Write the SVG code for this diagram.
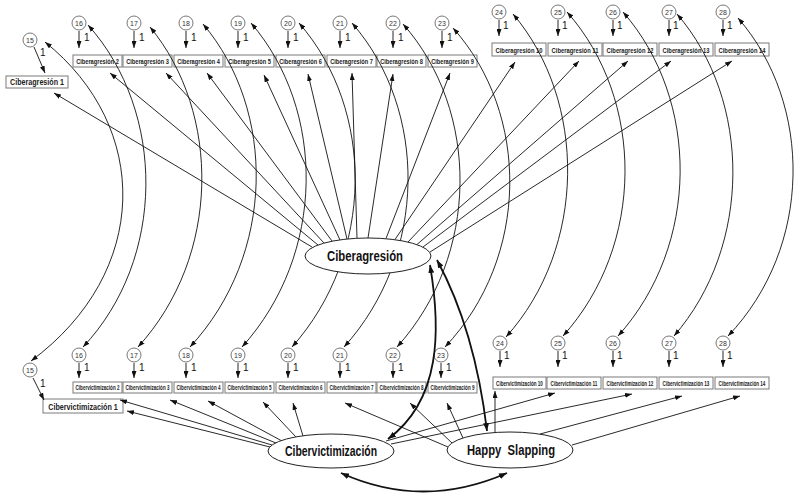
<svg xmlns="http://www.w3.org/2000/svg" width="800" height="497" viewBox="0 0 800 497">
<defs>
<style>
.bg{fill:#fff}
.box{fill:#fff;stroke:#7a7a7a;stroke-width:1}
.bt{font-family:"Liberation Sans",Arial,sans-serif;font-weight:bold;font-size:7.5px;text-anchor:middle;fill:#222}
.bv{font-family:"Liberation Sans",Arial,sans-serif;font-weight:bold;font-size:7px;text-anchor:middle;fill:#222}
.bt1{font-family:"Liberation Sans",Arial,sans-serif;font-weight:bold;font-size:8.5px;text-anchor:middle;fill:#222}
.err{fill:#fff;stroke:#555;stroke-width:0.8}
.et{font-family:"Liberation Sans",Arial,sans-serif;font-size:7px;text-anchor:middle;fill:#333}
.one{font-family:"Liberation Sans",Arial,sans-serif;font-size:10px;fill:#111}
.ln{stroke:#111;stroke-width:0.9;fill:none;marker-end:url(#ah)}
.cov{stroke:#111;stroke-width:0.9;fill:none;marker-start:url(#ah);marker-end:url(#ah)}
.thick{stroke:#111;stroke-width:1.8;fill:none;marker-start:url(#ahb);marker-end:url(#ahb)}
.lat{fill:#fff;stroke:#222;stroke-width:1}
.lt{font-family:"Liberation Sans",Arial,sans-serif;font-weight:bold;font-size:14px;text-anchor:middle;fill:#111}
</style>
<marker id="ah" viewBox="0 0 10 10" refX="10" refY="5" markerWidth="7" markerHeight="5" markerUnits="userSpaceOnUse" preserveAspectRatio="none" orient="auto-start-reverse"><path d="M0,0 L10,5 L0,10 z" fill="#111"/></marker>
<marker id="ahb" viewBox="0 0 10 10" refX="10" refY="5" markerWidth="8" markerHeight="6" markerUnits="userSpaceOnUse" preserveAspectRatio="none" orient="auto-start-reverse"><path d="M0,0 L10,5 L0,10 z" fill="#111"/></marker>
</defs>
<rect class="bg" x="0" y="0" width="800" height="497"/>

<g id="observed-top">
<g id="ca1"><rect class="box" x="6" y="76" width="62" height="12"/><text class="bt1" transform="translate(37,85) scale(0.85,1)" textLength="63.5" lengthAdjust="spacingAndGlyphs">Ciberagresión 1</text></g>
<g id="ca2"><rect class="box" x="73" y="55" width="49" height="12"/><text class="bt" transform="translate(97.5,64) scale(0.75,1)" textLength="57" lengthAdjust="spacingAndGlyphs">Ciberagresión 2</text></g>
<g id="ca3"><rect class="box" x="123" y="55" width="49" height="12"/><text class="bt" transform="translate(147.5,64) scale(0.75,1)" textLength="57" lengthAdjust="spacingAndGlyphs">Ciberagresión 3</text></g>
<g id="ca4"><rect class="box" x="174" y="55" width="49" height="12"/><text class="bt" transform="translate(198.5,64) scale(0.75,1)" textLength="57" lengthAdjust="spacingAndGlyphs">Ciberagresión 4</text></g>
<g id="ca5"><rect class="box" x="225" y="55" width="49" height="12"/><text class="bt" transform="translate(249.5,64) scale(0.75,1)" textLength="57" lengthAdjust="spacingAndGlyphs">Ciberagresión 5</text></g>
<g id="ca6"><rect class="box" x="276" y="55" width="49" height="12"/><text class="bt" transform="translate(300.5,64) scale(0.75,1)" textLength="57" lengthAdjust="spacingAndGlyphs">Ciberagresión 6</text></g>
<g id="ca7"><rect class="box" x="327" y="55" width="49" height="12"/><text class="bt" transform="translate(351.5,64) scale(0.75,1)" textLength="57" lengthAdjust="spacingAndGlyphs">Ciberagresión 7</text></g>
<g id="ca8"><rect class="box" x="377" y="55" width="49" height="12"/><text class="bt" transform="translate(401.5,64) scale(0.75,1)" textLength="57" lengthAdjust="spacingAndGlyphs">Ciberagresión 8</text></g>
<g id="ca9"><rect class="box" x="428" y="55" width="49" height="12"/><text class="bt" transform="translate(452.5,64) scale(0.75,1)" textLength="57" lengthAdjust="spacingAndGlyphs">Ciberagresión 9</text></g>
<g id="ca10"><rect class="box" x="492" y="43" width="54" height="13"/><text class="bt" transform="translate(519,52.5) scale(0.75,1)" textLength="62.5" lengthAdjust="spacingAndGlyphs">Ciberagresión 10</text></g>
<g id="ca11"><rect class="box" x="548" y="43" width="54" height="13"/><text class="bt" transform="translate(575,52.5) scale(0.75,1)" textLength="62.5" lengthAdjust="spacingAndGlyphs">Ciberagresión 11</text></g>
<g id="ca12"><rect class="box" x="603" y="43" width="54" height="13"/><text class="bt" transform="translate(630,52.5) scale(0.75,1)" textLength="62.5" lengthAdjust="spacingAndGlyphs">Ciberagresión 12</text></g>
<g id="ca13"><rect class="box" x="659" y="43" width="54" height="13"/><text class="bt" transform="translate(686,52.5) scale(0.75,1)" textLength="62.5" lengthAdjust="spacingAndGlyphs">Ciberagresión 13</text></g>
<g id="ca14"><rect class="box" x="715" y="43" width="54" height="13"/><text class="bt" transform="translate(742,52.5) scale(0.75,1)" textLength="62.5" lengthAdjust="spacingAndGlyphs">Ciberagresión 14</text></g>
</g>

<g id="observed-bottom">
<g id="cv1"><rect class="box" x="43" y="399" width="80" height="14"/><text class="bt1" font-size="9" transform="translate(83,409.5) scale(0.8,1)" textLength="87" lengthAdjust="spacingAndGlyphs">Cibervictimización 1</text></g>
<g id="cv2"><rect class="box" x="73" y="382" width="49" height="11"/><text class="bv" transform="translate(97.5,390.3) scale(0.65,1)" textLength="67.5" lengthAdjust="spacingAndGlyphs">Cibervictimización 2</text></g>
<g id="cv3"><rect class="box" x="123" y="382" width="49" height="11"/><text class="bv" transform="translate(147.5,390.3) scale(0.65,1)" textLength="67.5" lengthAdjust="spacingAndGlyphs">Cibervictimización 3</text></g>
<g id="cv4"><rect class="box" x="174" y="382" width="49" height="11"/><text class="bv" transform="translate(198.5,390.3) scale(0.65,1)" textLength="67.5" lengthAdjust="spacingAndGlyphs">Cibervictimización 4</text></g>
<g id="cv5"><rect class="box" x="225" y="382" width="49" height="11"/><text class="bv" transform="translate(249.5,390.3) scale(0.65,1)" textLength="67.5" lengthAdjust="spacingAndGlyphs">Cibervictimización 5</text></g>
<g id="cv6"><rect class="box" x="276" y="382" width="49" height="11"/><text class="bv" transform="translate(300.5,390.3) scale(0.65,1)" textLength="67.5" lengthAdjust="spacingAndGlyphs">Cibervictimización 6</text></g>
<g id="cv7"><rect class="box" x="327" y="382" width="49" height="11"/><text class="bv" transform="translate(351.5,390.3) scale(0.65,1)" textLength="67.5" lengthAdjust="spacingAndGlyphs">Cibervictimización 7</text></g>
<g id="cv8"><rect class="box" x="377" y="382" width="49" height="11"/><text class="bv" transform="translate(401.5,390.3) scale(0.65,1)" textLength="67.5" lengthAdjust="spacingAndGlyphs">Cibervictimización 8</text></g>
<g id="cv9"><rect class="box" x="428" y="382" width="49" height="11"/><text class="bv" transform="translate(452.5,390.3) scale(0.65,1)" textLength="67.5" lengthAdjust="spacingAndGlyphs">Cibervictimización 9</text></g>
<g id="cv10"><rect class="box" x="493" y="377" width="53" height="12"/><text class="bv" transform="translate(519.5,385.8) scale(0.65,1)" textLength="72" lengthAdjust="spacingAndGlyphs">Cibervictimización 10</text></g>
<g id="cv11"><rect class="box" x="547" y="377" width="54" height="12"/><text class="bv" transform="translate(574,385.8) scale(0.65,1)" textLength="72" lengthAdjust="spacingAndGlyphs">Cibervictimización 11</text></g>
<g id="cv12"><rect class="box" x="603" y="377" width="54" height="12"/><text class="bv" transform="translate(630,385.8) scale(0.65,1)" textLength="72" lengthAdjust="spacingAndGlyphs">Cibervictimización 12</text></g>
<g id="cv13"><rect class="box" x="659" y="377" width="54" height="12"/><text class="bv" transform="translate(686,385.8) scale(0.65,1)" textLength="72" lengthAdjust="spacingAndGlyphs">Cibervictimización 13</text></g>
<g id="cv14"><rect class="box" x="715" y="377" width="54" height="12"/><text class="bv" transform="translate(742,385.8) scale(0.65,1)" textLength="72" lengthAdjust="spacingAndGlyphs">Cibervictimización 14</text></g>
</g>

<g id="errors-top">
<g id="et15"><circle class="err" cx="30" cy="40" r="7"/><text class="et" x="30" y="42.5">15</text></g>
<g id="et16"><circle class="err" cx="79" cy="23" r="7"/><text class="et" x="79" y="25.5">16</text></g>
<g id="et17"><circle class="err" cx="134" cy="23" r="7"/><text class="et" x="134" y="25.5">17</text></g>
<g id="et18"><circle class="err" cx="186" cy="23" r="7"/><text class="et" x="186" y="25.5">18</text></g>
<g id="et19"><circle class="err" cx="238" cy="23" r="7"/><text class="et" x="238" y="25.5">19</text></g>
<g id="et20"><circle class="err" cx="288" cy="23" r="7"/><text class="et" x="288" y="25.5">20</text></g>
<g id="et21"><circle class="err" cx="340" cy="23" r="7"/><text class="et" x="340" y="25.5">21</text></g>
<g id="et22"><circle class="err" cx="393" cy="23" r="7"/><text class="et" x="393" y="25.5">22</text></g>
<g id="et23"><circle class="err" cx="442" cy="23" r="7"/><text class="et" x="442" y="25.5">23</text></g>
<g id="et24"><circle class="err" cx="499" cy="12" r="7"/><text class="et" x="499" y="14.5">24</text></g>
<g id="et25"><circle class="err" cx="558" cy="12" r="7"/><text class="et" x="558" y="14.5">25</text></g>
<g id="et26"><circle class="err" cx="613" cy="12" r="7"/><text class="et" x="613" y="14.5">26</text></g>
<g id="et27"><circle class="err" cx="669" cy="12" r="7"/><text class="et" x="669" y="14.5">27</text></g>
<g id="et28"><circle class="err" cx="723" cy="12" r="7"/><text class="et" x="723" y="14.5">28</text></g>
</g>

<g id="errors-bottom">
<g id="eb15"><circle class="err" cx="30" cy="370" r="7"/><text class="et" x="30" y="372.5">15</text></g>
<g id="eb16"><circle class="err" cx="79" cy="355" r="7"/><text class="et" x="79" y="357.5">16</text></g>
<g id="eb17"><circle class="err" cx="134" cy="355" r="7"/><text class="et" x="134" y="357.5">17</text></g>
<g id="eb18"><circle class="err" cx="186" cy="355" r="7"/><text class="et" x="186" y="357.5">18</text></g>
<g id="eb19"><circle class="err" cx="238" cy="355" r="7"/><text class="et" x="238" y="357.5">19</text></g>
<g id="eb20"><circle class="err" cx="288" cy="355" r="7"/><text class="et" x="288" y="357.5">20</text></g>
<g id="eb21"><circle class="err" cx="340" cy="355" r="7"/><text class="et" x="340" y="357.5">21</text></g>
<g id="eb22"><circle class="err" cx="393" cy="355" r="7"/><text class="et" x="393" y="357.5">22</text></g>
<g id="eb23"><circle class="err" cx="441" cy="355" r="7"/><text class="et" x="441" y="357.5">23</text></g>
<g id="eb24"><circle class="err" cx="500" cy="343" r="7"/><text class="et" x="500" y="345.5">24</text></g>
<g id="eb25"><circle class="err" cx="558" cy="343" r="7"/><text class="et" x="558" y="345.5">25</text></g>
<g id="eb26"><circle class="err" cx="613" cy="343" r="7"/><text class="et" x="613" y="345.5">26</text></g>
<g id="eb27"><circle class="err" cx="669" cy="343" r="7"/><text class="et" x="669" y="345.5">27</text></g>
<g id="eb28"><circle class="err" cx="723" cy="343" r="7"/><text class="et" x="723" y="345.5">28</text></g>
</g>

<g id="connectors">
<path class="ln" d="M34,47 L45,73"/>
<path class="ln" d="M79,31 L79,48"/><path class="ln" d="M134,31 L134,48"/><path class="ln" d="M186,31 L186,48"/><path class="ln" d="M238,31 L238,48"/>
<path class="ln" d="M288,31 L288,48"/><path class="ln" d="M340,31 L340,48"/><path class="ln" d="M393,31 L393,48"/><path class="ln" d="M442,31 L442,48"/>
<path class="ln" d="M499,20 L499,36"/><path class="ln" d="M558,20 L558,36"/><path class="ln" d="M613,20 L613,36"/><path class="ln" d="M669,20 L669,36"/><path class="ln" d="M723,20 L723,36"/>
<path class="ln" d="M33,378 L44,400"/>
<path class="ln" d="M79,363 L79,378"/><path class="ln" d="M134,363 L134,378"/><path class="ln" d="M186,363 L186,378"/><path class="ln" d="M238,363 L238,378"/>
<path class="ln" d="M288,363 L288,378"/><path class="ln" d="M340,363 L340,378"/><path class="ln" d="M393,363 L393,378"/><path class="ln" d="M441,363 L441,378"/>
<path class="ln" d="M500,351 L500,367"/><path class="ln" d="M558,351 L558,367"/><path class="ln" d="M613,351 L613,367"/><path class="ln" d="M669,351 L669,367"/><path class="ln" d="M723,351 L723,367"/>

<path class="cov" d="M45,42 C151,127 151,272 31,361"/>
<path class="cov" d="M88,25 C166,112 166,259 83,347"/>
<path class="cov" d="M150,27 C221,113 221,256 138,347"/>
<path class="cov" d="M203,24 C276,110 276,254 190,347"/>
<path class="cov" d="M251,23 C326,110 326,254 242,347"/>
<path class="cov" d="M299,23 C375,110 375,254 292,347"/>
<path class="cov" d="M352,23 C428,110 428,254 344,347"/>
<path class="cov" d="M403,24 C480,111 480,255 397,347"/>
<path class="cov" d="M453,28 C530,114 530,257 445,347"/>
<path class="cov" d="M513,14 C587,101 587,247 506,337"/>
<path class="cov" d="M567,12 C645,100 645,245 563,336"/>
<path class="cov" d="M623,12 C700,100 700,245 618,336"/>
<path class="cov" d="M677,14 C752,101 752,246 674,336"/>
<path class="cov" d="M738,18 C813,104 813,247 728,336"/>

<path class="ln" d="M312,247 L54,93"/>
<path class="ln" d="M318,245 L110,73"/>
<path class="ln" d="M324,243 L166,73"/>
<path class="ln" d="M332,241 L207,73"/>
<path class="ln" d="M340,240 L264,75"/>
<path class="ln" d="M347,239 L308,74"/>
<path class="ln" d="M357,238 L352,73"/>
<path class="ln" d="M368,238 L393,74"/>
<path class="ln" d="M386,238.5 L450,73"/>
<path class="ln" d="M395,239.5 L515,62"/>
<path class="ln" d="M408,242 L579,61"/>
<path class="ln" d="M417,244.5 L628,61"/>
<path class="ln" d="M423,247 L671,61"/>
<path class="ln" d="M430,252 L732,61"/>

<path class="ln" d="M270,447 L127,411"/>
<path class="ln" d="M272,445 L120,400"/>
<path class="ln" d="M276,443 L170,400"/>
<path class="ln" d="M282,441 L208,401"/>
<path class="ln" d="M296,437 L263,402"/>
<path class="ln" d="M303,436 L293,403"/>
<path class="ln" d="M386,441 L555,393"/>
<path class="ln" d="M391,444 L632,394"/>

<path class="ln" d="M448,447 L345,403"/>
<path class="ln" d="M452,443 L410,403"/>
<path class="ln" d="M463,438 L447,403"/>
<path class="ln" d="M495,432 L495,391"/>
<path class="ln" d="M540,434 L682,396"/>
<path class="ln" d="M572,445 L740,396"/>

<path class="thick" d="M430,265 C441,330 441,400 388,439"/>
<path class="thick" d="M437,260 Q475,330 487,431"/>
<path class="thick" d="M341,473 Q423,510 507,473"/>
</g>

<g id="latent-ciberagresion"><ellipse class="lat" cx="368" cy="256" rx="63" ry="18"/><text class="lt" x="365" y="261" textLength="76" lengthAdjust="spacingAndGlyphs">Ciberagresión</text></g>
<g id="latent-cibervictimizacion"><ellipse class="lat" cx="331" cy="451" rx="63" ry="17"/><text class="lt" x="331" y="456" textLength="92" lengthAdjust="spacingAndGlyphs">Cibervictimización</text></g>
<g id="latent-happy-slapping"><ellipse class="lat" cx="510" cy="450" rx="63" ry="18"/><text class="lt" x="511" y="455" textLength="88" lengthAdjust="spacingAndGlyphs" xml:space="preserve">Happy  Slapping</text></g>

<g id="weights">
<text class="one" x="40" y="56">1</text>
<text class="one" x="84" y="41">1</text><text class="one" x="139" y="41">1</text><text class="one" x="191" y="41">1</text><text class="one" x="243" y="41">1</text>
<text class="one" x="293" y="41">1</text><text class="one" x="345" y="41">1</text><text class="one" x="398" y="41">1</text><text class="one" x="447" y="41">1</text>
<text class="one" x="503" y="29">1</text><text class="one" x="562" y="29">1</text><text class="one" x="617" y="29">1</text><text class="one" x="673" y="29">1</text><text class="one" x="727" y="29">1</text>
<text class="one" x="40" y="387">1</text>
<text class="one" x="84" y="371">1</text><text class="one" x="139" y="371">1</text><text class="one" x="191" y="371">1</text><text class="one" x="243" y="371">1</text>
<text class="one" x="293" y="371">1</text><text class="one" x="345" y="371">1</text><text class="one" x="398" y="371">1</text><text class="one" x="446" y="371">1</text>
<text class="one" x="504" y="359">1</text><text class="one" x="562" y="359">1</text><text class="one" x="617" y="359">1</text><text class="one" x="673" y="359">1</text><text class="one" x="727" y="359">1</text>
</g>
</svg>
